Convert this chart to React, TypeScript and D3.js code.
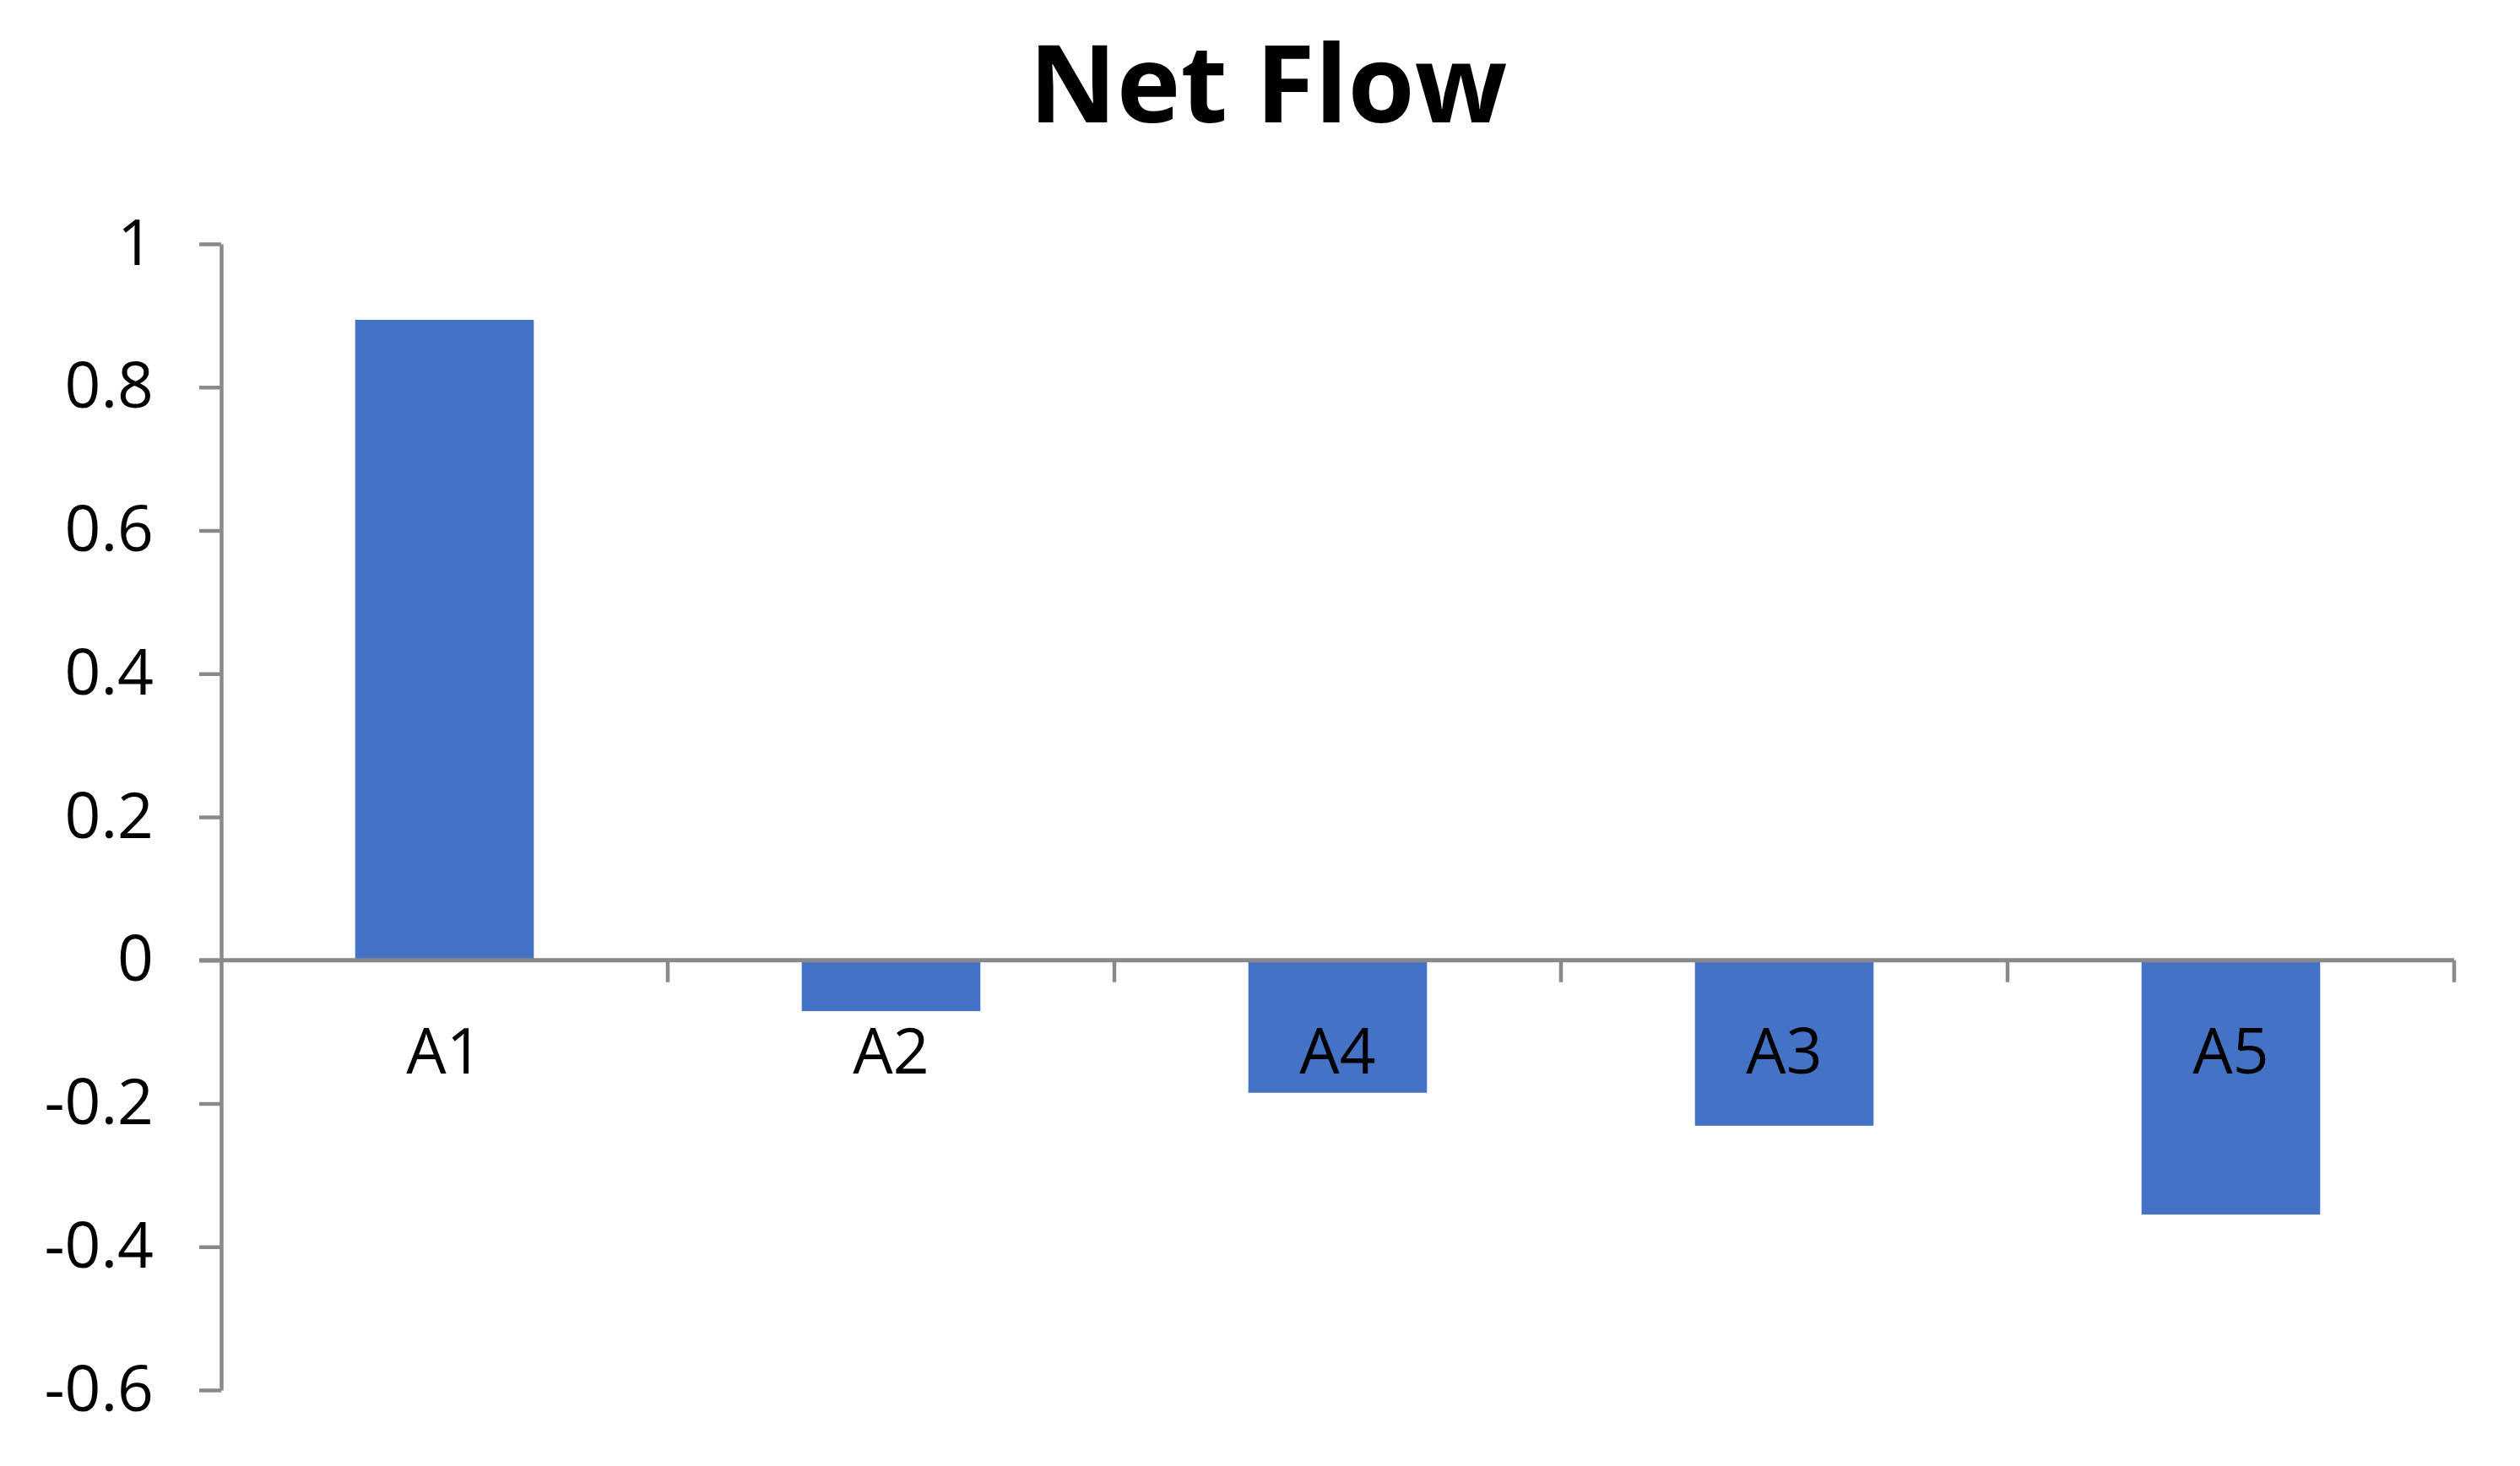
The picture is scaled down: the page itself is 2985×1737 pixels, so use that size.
import { useEffect, useRef } from "react";
import * as d3 from "d3";

const categories = ["A1", "A2", "A4", "A3", "A5"];
const netFlow = [0.894, -0.071, -0.185, -0.231, -0.355];
const yTicks = [-0.6, -0.4, -0.2, 0, 0.2, 0.4, 0.6, 0.8, 1];
const chartTitle = "Net Flow";

const WIDTH = 2985;
const HEIGHT = 1737;

export default function App() {
  const svgRef = useRef<SVGSVGElement>(null);

  useEffect(() => {
    if (!svgRef.current) return;

    const svg = d3.select(svgRef.current);
    svg.selectAll("*").remove();

    const data = categories.map((c, i) => ({ name: c, value: netFlow[i] }));
    const axisColor = "#898989";
    const font = "'Open Sans', sans-serif";

    const xScale = d3
      .scaleBand()
      .domain(categories)
      .range([262, 2907])
      .paddingInner(0.6)
      .paddingOuter(0.3);

    const yScale = d3.scaleLinear().domain([-0.6, 1]).range([1647, 289]);

    // Title
    svg
      .append("text")
      .attr("x", 1502)
      .attr("y", 145)
      .attr("text-anchor", "middle")
      .attr("font-family", font)
      .attr("font-weight", "bold")
      .attr("font-size", 128)
      .attr("fill", "#000")
      .text(chartTitle);

    // Bars (drawn before the axis so the axis line sits on top)
    svg
      .selectAll(".bar")
      .data(data)
      .enter()
      .append("rect")
      .attr("class", "bar")
      .attr("x", (d) => xScale(d.name) || 0)
      .attr("width", xScale.bandwidth())
      .attr("y", (d) => yScale(Math.max(0, d.value)))
      .attr("height", (d) => Math.abs(yScale(d.value) - yScale(0)))
      .attr("fill", "#4472C4");

    // Y axis
    const yAxis = svg
      .append("g")
      .attr("transform", `translate(${xScale.range()[0]},0)`)
      .call(
        d3
          .axisLeft(yScale)
          .tickValues(yTicks)
          .tickSize(26)
          .tickSizeOuter(0)
          .tickPadding(54)
          .tickFormat((d) => String(+(+d).toFixed(1)))
      );
    yAxis.select(".domain").attr("stroke", axisColor).attr("stroke-width", 4.5);
    yAxis.selectAll(".tick line").attr("stroke", axisColor).attr("stroke-width", 4.5);
    yAxis
      .selectAll(".tick text")
      .attr("fill", "#000")
      .style("font-family", font)
      .style("font-size", "75px");

    // X axis at zero with ticks at category boundaries
    const y0 = yScale(0);
    const [x0, x1] = xScale.range();
    svg
      .append("line")
      .attr("x1", x0 - 26)
      .attr("x2", x1)
      .attr("y1", y0)
      .attr("y2", y0)
      .attr("stroke", axisColor)
      .attr("stroke-width", 5);

    const boundaries = d3.range(1, categories.length + 1).map((i) => x0 + i * xScale.step());
    svg
      .selectAll(".xtick")
      .data(boundaries)
      .enter()
      .append("line")
      .attr("class", "xtick")
      .attr("x1", (d) => d)
      .attr("x2", (d) => d)
      .attr("y1", y0)
      .attr("y2", y0 + 26)
      .attr("stroke", axisColor)
      .attr("stroke-width", 4.5);

    // Category labels
    svg
      .selectAll(".xlabel")
      .data(data)
      .enter()
      .append("text")
      .attr("class", "xlabel")
      .attr("x", (d) => (xScale(d.name) || 0) + xScale.bandwidth() / 2)
      .attr("y", y0 + 134)
      .attr("text-anchor", "middle")
      .attr("font-family", font)
      .attr("font-size", 75)
      .attr("fill", "#000")
      .text((d) => d.name);
  }, []);

  return (
    <svg
      ref={svgRef}
      width={WIDTH}
      height={HEIGHT}
      style={{ position: "absolute", left: 0, top: 0, background: "#fff" }}
    />
  );
}
